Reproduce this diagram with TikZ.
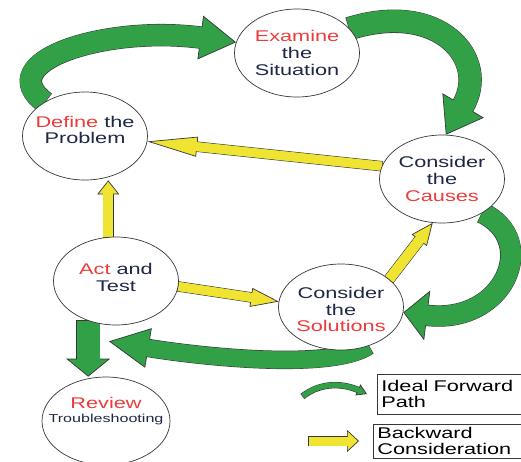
\documentclass[tikz,border=0pt]{standalone}
\usepackage{fontspec}
\newfontfamily\diagfont{Liberation Sans}[FakeStretch=1.4]
\usetikzlibrary{shapes.geometric,arrows.meta,backgrounds,calc}
\definecolor{fwdgreen}{RGB}{50,160,70}
\definecolor{bwdyellow}{RGB}{240,228,50}
\definecolor{outl}{RGB}{55,55,55}
\definecolor{redt}{RGB}{235,60,60}
\definecolor{navyt}{RGB}{30,40,70}
% #1 colour, #2 shaft width, #3 head width, #4 head length, #5 path
\newcommand\fatarrow[5]{%
  \draw[draw=outl, line width=#2+1.4pt, shorten >=#4-1pt, shorten <=-0.7pt] #5;
  \draw[draw=#1, line width=#2, -{Triangle[width=#3,length=#4,line width=0.7pt,fill=#1,color=outl]}] #5;
  \draw[draw=#1, line width=#2, shorten >=#4-2pt] #5;
}
\begin{document}
\begin{tikzpicture}[x=1pt,y=-1pt,
  ell/.style={ellipse, draw=outl, line width=0.7pt, fill=white,
    minimum width=125pt, minimum height=88pt, inner sep=0pt},
  txt/.style={font=\diagfont\fontsize{15.5}{16.7}\selectfont, align=center,
    text=navyt, inner sep=0pt},
  legbox/.style={draw=outl, line width=0.7pt, anchor=north west, fill=white,
    minimum height=40pt, text width=150pt, align=left, inner xsep=4pt,
    font=\diagfont\fontsize{15.5}{16}\selectfont, text=black}]
\useasboundingbox (0,0) rectangle (521,461);

\node[ell, label={[txt]center:{\textcolor{redt}{Examine}\\the\\Situation}}] (exam) at (297,53) {};
\node[ell, label={[txt, yshift=6pt]center:{\textcolor{redt}{Define} the\\Problem}}] (def) at (85,136) {};
\node[ell, label={[txt]center:{Consider\\the\\\textcolor{redt}{Causes}}}] (cause) at (442,179) {};
\node[ell, label={[txt, yshift=3.5pt]center:{\textcolor{redt}{Act} and\\Test}}] (act) at (116,281) {};
\node[ell, minimum height=86pt, label={[txt, yshift=-2.5pt]center:{Consider\\the\\\textcolor{redt}{Solutions}}}] (sol) at (341,307) {};
\node[ell, minimum width=128pt, label={[txt, yshift=10pt]center:{\textcolor{redt}{Review}\\[-3pt]{\fontsize{11.5}{13}\selectfont Troubleshooting}}}] (rev) at (106,421) {};

\coordinate (acttip) at ($(act.south)+(-7,16)$);

\begin{pgfonlayer}{background}
  \fill[white] (0,0) rectangle (521,461);
  % forward path (green)
  \fatarrow{fwdgreen}{21pt}{44pt}{36pt}{(def.140) .. controls (-10,62) and (105,25) .. (exam.170)}
  \fatarrow{fwdgreen}{22pt}{48pt}{34pt}{(exam.25) .. controls (440,0) and (490,60) .. (cause.85)}
  \fatarrow{fwdgreen}{20pt}{50pt}{24pt}{(cause.-40) .. controls (540,240) and (505,325) .. (sol.-5)}
  \fatarrow{fwdgreen}{17pt}{40pt}{40pt}{(sol.-55) .. controls (330,372) and (190,355) .. (acttip)}
  \fatarrow{fwdgreen}{23pt}{44pt}{18pt}{(act.-125) -- (act.-125 |- rev.north)}
  % backward consideration (yellow)
  \fatarrow{bwdyellow}{9pt}{20pt}{50pt}{(cause.168) -- (def.-5)}
  \fatarrow{bwdyellow}{10pt}{22pt}{14pt}{(act.100) -- (act.100 |- def.south)}
  \fatarrow{bwdyellow}{9pt}{19pt}{28pt}{(act.-5) -- (sol.175)}
  \fatarrow{bwdyellow}{10pt}{19pt}{22pt}{(sol.30) -- (cause.-102)}
\end{pgfonlayer}

% legend
\node[legbox] (leg1) at (377,374) {Ideal Forward\\Path};
\node[legbox, minimum height=34pt] (leg2) at (373,424) {Backward\\Consideration};
\coordinate (g1) at (303,396);
\coordinate (g2) at (367,394);
\fatarrow{fwdgreen}{5pt}{12pt}{10pt}{(g1) .. controls (322,381) and (345,384) .. (g2)}
\coordinate (y1) at (309,441);
\coordinate (y2) at (359,441);
\fatarrow{bwdyellow}{9pt}{22pt}{12pt}{(y1) -- (y2)}
\end{tikzpicture}
\end{document}
